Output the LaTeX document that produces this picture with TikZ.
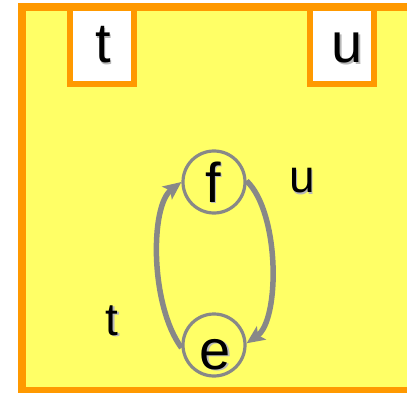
\documentclass[tikz,border=0pt]{standalone}
\usepackage{fontspec}
\setmainfont{Liberation Sans}
\usetikzlibrary{arrows.meta}
\definecolor{orng}{HTML}{FF9900}
\definecolor{ylw}{HTML}{FFFF66}
\definecolor{gry}{HTML}{888888}
\definecolor{shd}{HTML}{B8B8B8}
\tikzset{
  boxstyle/.style={draw=orng, line width=5.5pt, fill=white},
  statenode/.style={circle, draw=gry, line width=3.2pt, minimum size=62pt, inner sep=0pt},
  arr/.style={draw=gry, line width=5.5pt, -{Stealth[length=18pt,width=16pt,inset=4pt]}},
  bigtxt/.style={font=\fontsize{56}{60}\selectfont, anchor=base, inner sep=0pt},
  lbltxt/.style={font=\fontsize{46}{50}\selectfont, anchor=base, inner sep=0pt},
}
\newcommand{\shtext}[5]{% style, x, y, text, name
  \node[#1, text=shd] (#5s) at (#2+1.6,#3+1.6) {#4};
  \node[#1] (#5) at (#2,#3) {#4};
}
\begin{document}
\begin{tikzpicture}[x=1pt,y=-1pt]
\useasboundingbox (0,0) rectangle (407,393);
\fill[ylw] (22,7) rectangle (430,391);
\draw[boxstyle] (70,7) rectangle (134,84);
\draw[boxstyle] (310,7) rectangle (374,84);
\draw[orng, line width=8pt] (22,7) rectangle (430,391);
\shtext{bigtxt}{103}{63}{t}{tbox}
\shtext{bigtxt}{347}{63}{u}{ubox}
\node[statenode] (f) at (214,182) {};
\node[statenode] (e) at (214,345) {};
\shtext{bigtxt}{213}{202}{f}{ftxt}
\shtext{bigtxt}{215}{369}{e}{etxt}
\shtext{lbltxt}{302}{193}{u}{ulbl}
\shtext{lbltxt}{112}{335}{t}{tlbl}
\draw[arr] (e.185) .. controls (150,305) and (150,206) .. (f.180);
\draw[arr] (f.2) .. controls (280,213) and (280,320) .. (e.3);
\end{tikzpicture}
\end{document}
